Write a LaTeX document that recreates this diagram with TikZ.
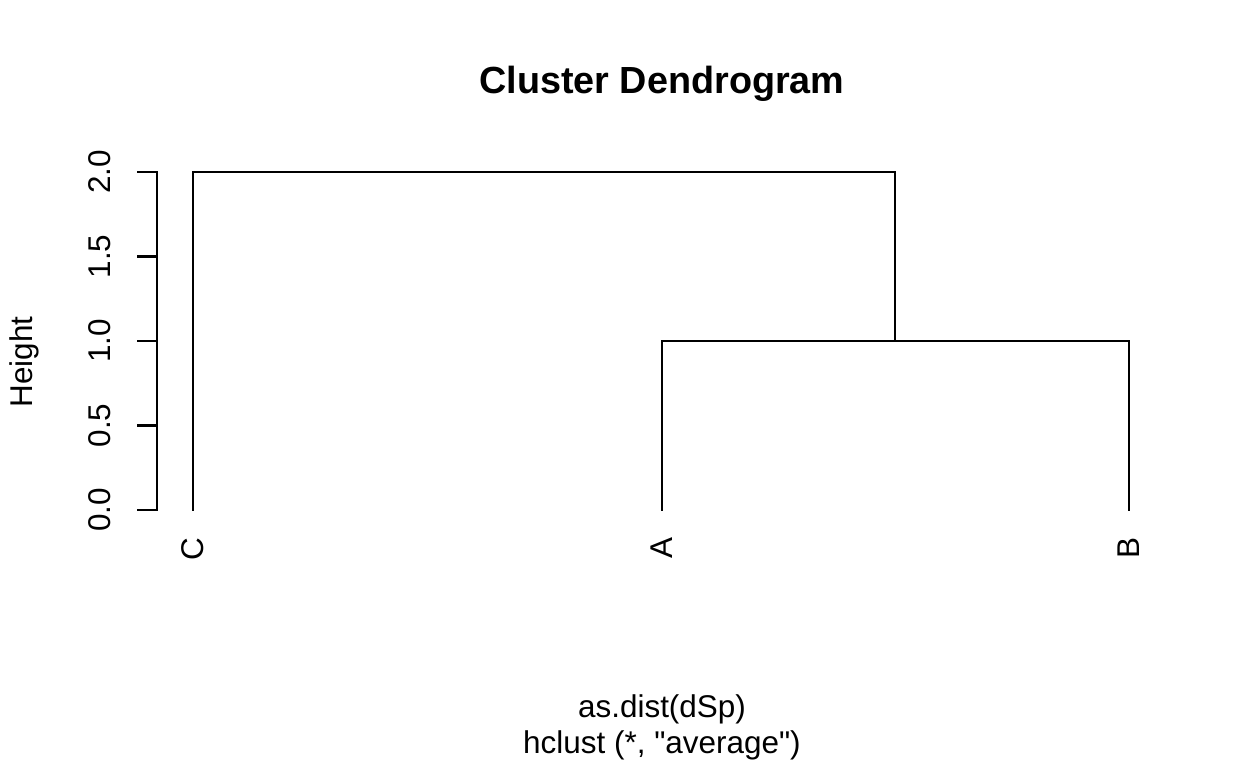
\documentclass[tikz,border=0pt]{standalone}
\usepackage{fontspec}
\setmainfont{Liberation Sans}[Ligatures=TeXOff]
\usepackage{tikz}

\tikzset{
  lbl/.style={inner sep=0pt, font=\fontsize{17.9}{21}\selectfont},
  title/.style={inner sep=0pt, font=\fontsize{21.5}{25}\selectfont\bfseries},
  branch/.style={line width=1.3pt, line cap=rect}
}

\begin{document}
\begin{tikzpicture}[x=0.02cm, y=-0.02cm]
\useasboundingbox (0,0) rectangle (1248,768);

% Titles
\node[title, anchor=base] (title) at (662,93) {Cluster Dendrogram};
\node[lbl, anchor=base] (sub1) at (662,717) {as.dist(dSp)};
\node[lbl, anchor=base] (sub2) at (662,753) {hclust (*, "average")};

% Axis
\draw[branch] (157,172) -- (157,510);
\foreach \v/\y in {0.0/510, 0.5/425.5, 1.0/341, 1.5/256.5, 2.0/172} {
  \draw[branch] (138,\y) -- (157,\y);
  \node[lbl, rotate=90] at (100,\y) {\v};
}
\node[lbl, rotate=90] (ylab) at (24,362) {Height};

% Leaves and merges
\coordinate (C) at (193,510);
\coordinate (A) at (662,510);
\coordinate (B) at (1129,510);
\coordinate (AB) at (895,341);
\coordinate (top) at (544,172);

\draw[branch] (A) |- (AB) -| (B);
\draw[branch] (C) |- (top) -| (AB);

% Leaf labels
\node[lbl, rotate=90, anchor=east] (lC) at (193,537) {C};
\node[lbl, rotate=90, anchor=east] (lA) at (662,537) {A};
\node[lbl, rotate=90, anchor=east] (lB) at (1129,537) {B};

\end{tikzpicture}
\end{document}
